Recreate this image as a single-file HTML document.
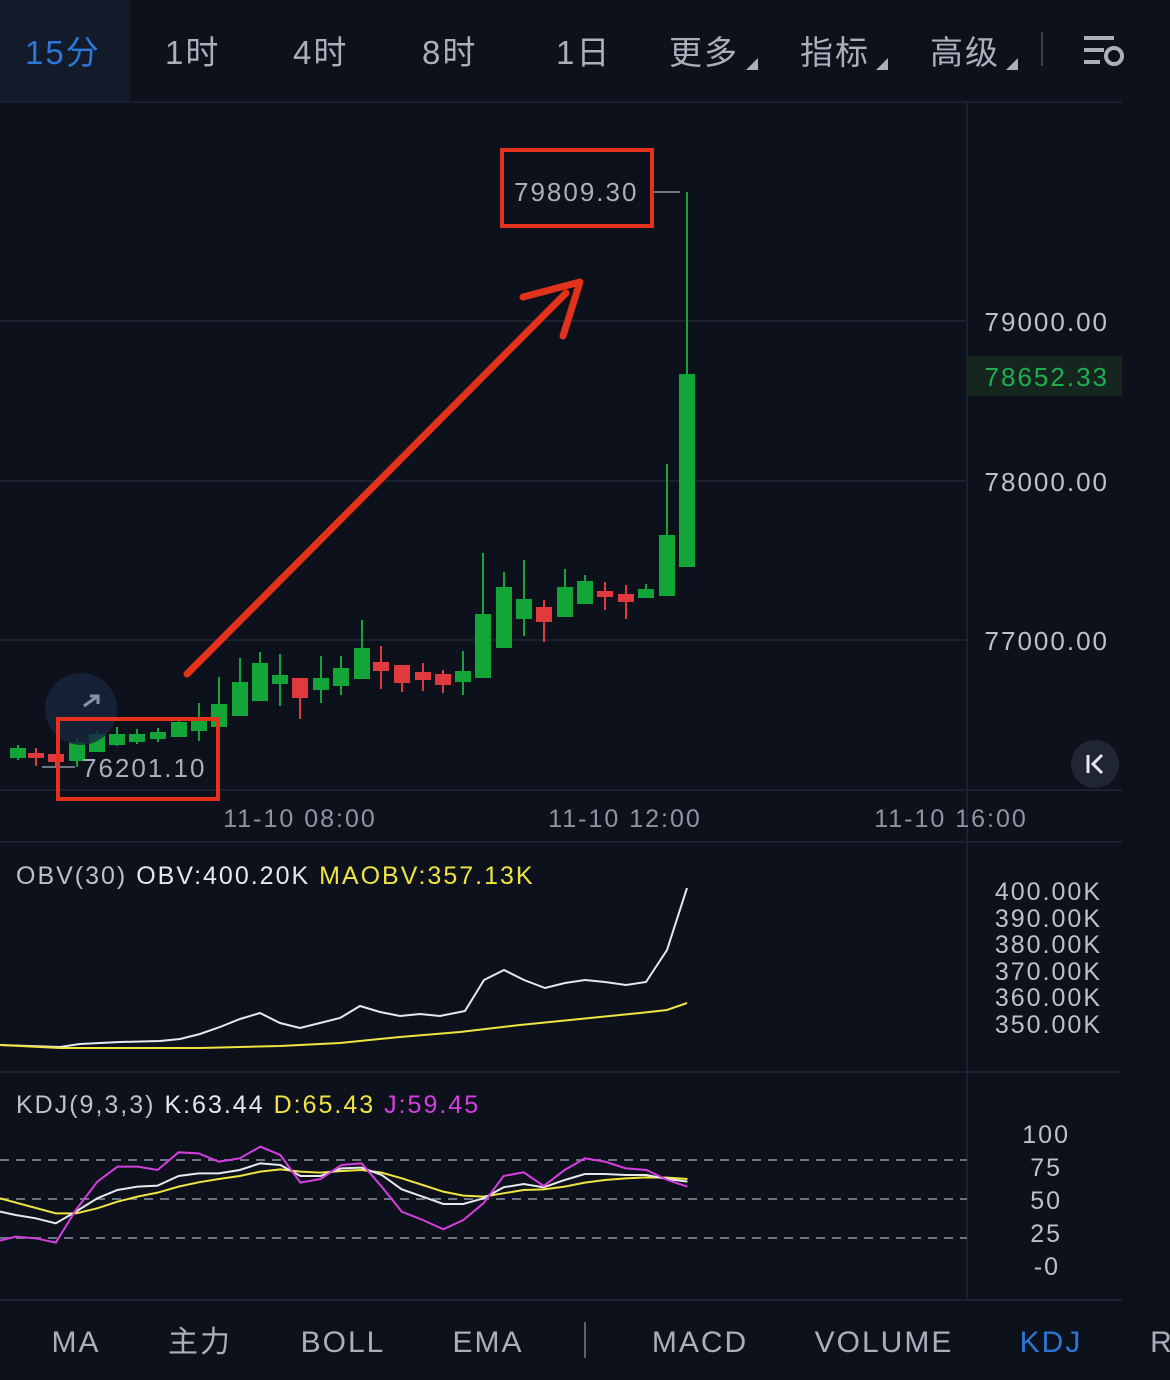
<!DOCTYPE html>
<html><head><meta charset="utf-8"><style>
html,body{margin:0;padding:0;background:#0d111c;width:1170px;height:1380px;overflow:hidden}
svg{display:block}
text{font-family:"Liberation Sans","Noto Sans CJK SC",sans-serif;letter-spacing:2px}
</style></head><body>
<svg width="1170" height="1380" viewBox="0 0 1170 1380" xmlns="http://www.w3.org/2000/svg">
<rect width="1170" height="1380" fill="#0d111c"/>
<!-- header -->
<rect x="0" y="0" width="130" height="102" fill="#131b2b"/>
<g font-size="33" fill="#a9b0bc">
<text x="25" y="64" fill="#2b78d6">15分</text>
<text x="165" y="64">1时</text>
<text x="293" y="64">4时</text>
<text x="422" y="64">8时</text>
<text x="556" y="64">1日</text>
<text x="669" y="64">更多</text>
<text x="800" y="64">指标</text>
<text x="930" y="64">高级</text>
</g>
<g fill="#a9b0bc"><path d="M746 70l12 0 0-12z"/><path d="M876 70l12 0 0-12z"/><path d="M1006 70l12 0 0-12z"/></g>
<line x1="1042" y1="32" x2="1042" y2="66" stroke="#3a4150" stroke-width="2"/>
<g stroke="#a9b0bc" stroke-width="4" fill="none"><line x1="1084" y1="38" x2="1114" y2="38"/><line x1="1084" y1="50" x2="1104" y2="50"/><line x1="1084" y1="62" x2="1100" y2="62"/><circle cx="1114" cy="56" r="8"/></g>
<line x1="0" y1="102" x2="1122" y2="102" stroke="#1a2030" stroke-width="2"/>
<!-- grid -->
<g stroke="#1b2131" stroke-width="2">
<line x1="0" y1="321" x2="967" y2="321"/><line x1="0" y1="481" x2="967" y2="481"/><line x1="0" y1="640" x2="967" y2="640"/>
<line x1="0" y1="790" x2="1122" y2="790"/><line x1="0" y1="842" x2="1122" y2="842"/><line x1="0" y1="1072" x2="1122" y2="1072"/><line x1="0" y1="1300" x2="1122" y2="1300"/>
<line x1="967" y1="102" x2="967" y2="1300"/>
</g>
<g font-size="26" fill="#bcc2cc" text-anchor="end">
<text x="1109" y="331">79000.00</text>
<text x="1109" y="491">78000.00</text>
<text x="1109" y="650">77000.00</text>
</g>
<rect x="968" y="356" width="154" height="40" fill="#15261e"/>
<text x="1109" y="386" font-size="26" fill="#1fae52" text-anchor="end">78652.33</text>
<g font-size="25" fill="#8d95a3" text-anchor="middle">
<text x="300" y="827">11-10 08:00</text><text x="625" y="827">11-10 12:00</text><text x="951" y="827">11-10 16:00</text>
</g>
<!-- candles -->
<g stroke-width="2">
<g stroke="#13a538" fill="#13a538">
<line x1="18" y1="745" x2="18" y2="760"/><rect x="11" y="749" width="14" height="8"/>
<line x1="77" y1="738" x2="77" y2="767"/><rect x="70" y="743" width="14" height="17"/>
<line x1="97" y1="731" x2="97" y2="751"/><rect x="90" y="735" width="14" height="16"/>
<line x1="117" y1="727" x2="117" y2="746"/><rect x="110" y="735" width="14" height="9"/>
<line x1="137" y1="729" x2="137" y2="744"/><rect x="130" y="735" width="14" height="6"/>
<line x1="158" y1="728" x2="158" y2="742"/><rect x="151" y="733" width="14" height="5"/>
<line x1="179" y1="717" x2="179" y2="736"/><rect x="172" y="723" width="14" height="13"/>
<line x1="199" y1="703" x2="199" y2="741"/><rect x="192" y="722" width="14" height="8"/>
<line x1="219" y1="677" x2="219" y2="726"/><rect x="212" y="705" width="14" height="21"/>
<line x1="240" y1="658" x2="240" y2="715"/><rect x="233" y="683" width="14" height="32"/>
<line x1="260" y1="652" x2="260" y2="700"/><rect x="253" y="664" width="14" height="36"/>
<line x1="280" y1="654" x2="280" y2="706"/><rect x="273" y="676" width="14" height="7"/>
<line x1="321" y1="656" x2="321" y2="703"/><rect x="314" y="679" width="14" height="10"/>
<line x1="341" y1="656" x2="341" y2="695"/><rect x="334" y="669" width="14" height="16"/>
<line x1="362" y1="620" x2="362" y2="678"/><rect x="355" y="649" width="14" height="29"/>
<line x1="463" y1="651" x2="463" y2="695"/><rect x="456" y="672" width="14" height="9"/>
<line x1="483" y1="553" x2="483" y2="677"/><rect x="476" y="615" width="14" height="62"/>
<line x1="504" y1="572" x2="504" y2="647"/><rect x="497" y="588" width="14" height="59"/>
<line x1="524" y1="560" x2="524" y2="636"/><rect x="517" y="600" width="14" height="18"/>
<line x1="565" y1="569" x2="565" y2="616"/><rect x="558" y="588" width="14" height="28"/>
<line x1="585" y1="575" x2="585" y2="603"/><rect x="578" y="582" width="14" height="21"/>
<line x1="646" y1="584" x2="646" y2="597"/><rect x="639" y="590" width="14" height="7"/>
<line x1="667" y1="464" x2="667" y2="595"/><rect x="660" y="536" width="14" height="59"/>
<line x1="687" y1="192" x2="687" y2="566"/><rect x="680" y="375" width="14" height="191"/>
</g>
<g stroke="#e0393e" fill="#e0393e">
<line x1="36" y1="748" x2="36" y2="766"/><rect x="29" y="754" width="14" height="3"/>
<line x1="56" y1="755" x2="56" y2="767"/><rect x="49" y="755" width="14" height="6"/>
<line x1="300" y1="679" x2="300" y2="719"/><rect x="293" y="679" width="14" height="18"/>
<line x1="381" y1="646" x2="381" y2="689"/><rect x="374" y="663" width="14" height="7"/>
<line x1="402" y1="666" x2="402" y2="692"/><rect x="395" y="666" width="14" height="16"/>
<line x1="423" y1="663" x2="423" y2="691"/><rect x="416" y="673" width="14" height="6"/>
<line x1="443" y1="670" x2="443" y2="693"/><rect x="436" y="675" width="14" height="9"/>
<line x1="544" y1="600" x2="544" y2="642"/><rect x="537" y="608" width="14" height="13"/>
<line x1="605" y1="582" x2="605" y2="610"/><rect x="598" y="592" width="14" height="4"/>
<line x1="626" y1="585" x2="626" y2="619"/><rect x="619" y="595" width="14" height="6"/>
</g>
</g>
<!-- annotations -->
<line x1="652" y1="192" x2="680" y2="192" stroke="#8d95a3" stroke-width="1.5"/>
<text x="514" y="201" font-size="26" fill="#a9b0bc">79809.30</text>
<rect x="502" y="150" width="150" height="76" fill="none" stroke="#e2321b" stroke-width="4"/>
<circle cx="81" cy="709" r="36" fill="#17263f" opacity="0.8"/>
<path d="M84 706l14-10M90 696h8v8" stroke="#8a94a6" stroke-width="3" fill="none"/>
<line x1="42" y1="767" x2="75" y2="767" stroke="#8d95a3" stroke-width="1.5"/>
<text x="82" y="777" font-size="26" fill="#a9b0bc">76201.10</text>
<rect x="58" y="719" width="160" height="80" fill="none" stroke="#e2321b" stroke-width="4"/>
<line x1="187" y1="674" x2="566" y2="293" stroke="#e2321b" stroke-width="7" stroke-linecap="round"/>
<path d="M523 297 L580 282 L563 336" fill="none" stroke="#e2321b" stroke-width="7" stroke-linecap="round" stroke-linejoin="round"/>
<circle cx="1095" cy="764" r="24" fill="#1f2533"/>
<path d="M1088 755v18M1102 755l-9 9 9 9" stroke="#e6e8ec" stroke-width="3" fill="none"/>
<!-- OBV -->
<text x="16" y="884" font-size="25" fill="#bcc2cc">OBV(30) <tspan fill="#e6e8ec">OBV:400.20K</tspan> <tspan fill="#f0e442">MAOBV:357.13K</tspan></text>
<g font-size="25" fill="#bcc2cc" text-anchor="end">
<text x="1102" y="900">400.00K</text><text x="1102" y="927">390.00K</text><text x="1102" y="953">380.00K</text><text x="1102" y="980">370.00K</text><text x="1102" y="1006">360.00K</text><text x="1102" y="1033">350.00K</text>
</g>
<polyline fill="none" stroke="#e6e8ec" stroke-width="2" points="0,1045 60,1047 80,1044 120,1042 160,1041 180,1039 200,1034 220,1027 240,1019 260,1013 280,1023 300,1028 320,1023 340,1018 360,1006 380,1012 400,1016 420,1014 440,1016 465,1011 484,980 504,970 524,980 545,988 565,983 585,980 605,982 626,985 646,982 667,950 687,888"/>
<polyline fill="none" stroke="#f0e442" stroke-width="2" points="0,1045 60,1048 200,1048 280,1046 340,1043 400,1037 460,1032 520,1025 580,1019 640,1013 667,1010 687,1003"/>
<!-- KDJ -->
<text x="16" y="1113" font-size="25" fill="#bcc2cc">KDJ(9,3,3) <tspan fill="#e6e8ec">K:63.44</tspan> <tspan fill="#f0e442">D:65.43</tspan> <tspan fill="#d63ee0">J:59.45</tspan></text>
<g font-size="25" fill="#bcc2cc" text-anchor="end">
<text x="1070" y="1143">100</text><text x="1062" y="1176">75</text><text x="1062" y="1209">50</text><text x="1062" y="1242">25</text><text x="1060" y="1275">-0</text>
</g>
<g stroke="#6d7482" stroke-width="2" stroke-dasharray="9 7">
<line x1="0" y1="1160" x2="967" y2="1160"/><line x1="0" y1="1199" x2="967" y2="1199"/><line x1="0" y1="1238" x2="967" y2="1238"/>
</g>
<g transform="translate(0,1100) scale(0.4464,0.3333)" fill="none" stroke-width="2">
<polyline vector-effect="non-scaling-stroke" stroke="#f0e442" points="0,295 125,340 170,340 218,325 263,305 308,290 353,278 400,260 445,247 490,237 537,228 583,215 628,208 673,215 718,218 765,213 810,210 855,218 900,235 947,255 993,275 1038,287 1083,290 1128,280 1173,270 1218,268 1265,260 1310,248 1355,240 1402,235 1448,232 1495,233 1540,237"/>
<polyline vector-effect="non-scaling-stroke" stroke="#e6e8ec" points="0,335 35,345 80,355 125,370 170,335 218,295 263,270 308,260 353,257 400,228 445,220 490,220 537,210 583,190 628,195 673,228 718,228 765,205 810,203 855,225 900,268 947,290 993,312 1038,312 1083,295 1128,262 1173,252 1218,262 1265,240 1310,222 1355,222 1402,225 1448,225 1495,237 1540,245"/>
<polyline vector-effect="non-scaling-stroke" stroke="#d63ee0" points="0,422 35,410 80,415 125,428 170,330 218,245 263,200 308,200 353,210 400,157 445,160 490,185 537,175 583,140 628,165 673,248 718,237 765,195 810,190 855,260 900,335 947,360 993,388 1038,360 1083,310 1128,228 1173,217 1218,258 1265,210 1310,175 1355,185 1402,205 1448,210 1495,240 1540,260"/>
</g>
<!-- bottom tabs -->
<g font-size="30" fill="#a9b0bc" text-anchor="middle">
<text x="76" y="1352">MA</text><text x="200" y="1352">主力</text><text x="343" y="1352">BOLL</text><text x="488" y="1352">EMA</text>
<text x="700" y="1352">MACD</text><text x="884" y="1352">VOLUME</text><text x="1051" y="1352" fill="#2b78d6">KDJ</text><text x="1162" y="1352">R</text>
</g>
<line x1="585" y1="1322" x2="585" y2="1358" stroke="#5a6170" stroke-width="2"/>
</svg>
</body></html>
